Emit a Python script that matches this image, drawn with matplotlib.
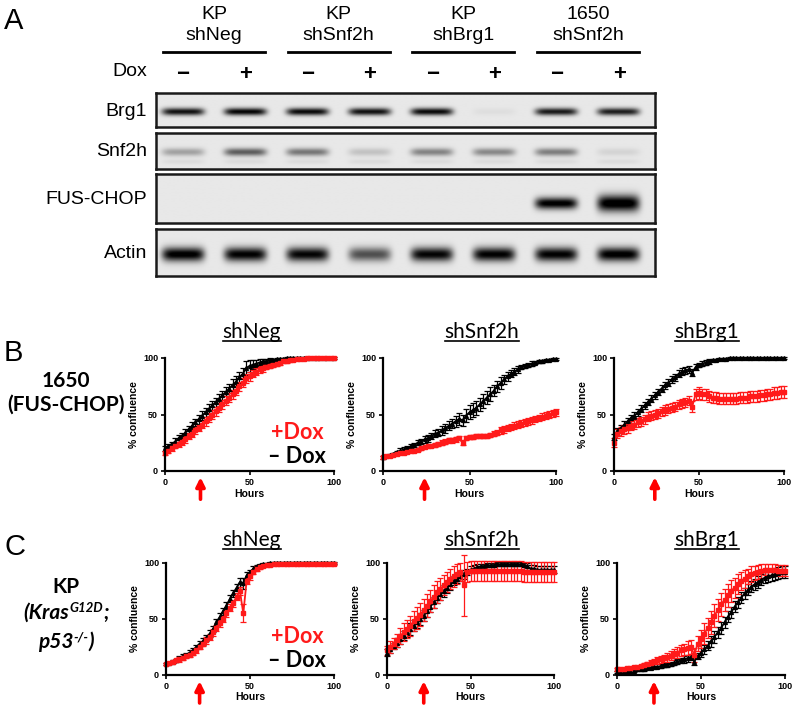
import numpy as np
import matplotlib.pyplot as plt
from matplotlib.lines import Line2D

# Figure: western blot (A) + growth curves (B, C)

W, H = 794, 706
plt.rcParams['font.family'] = ['Liberation Sans', 'DejaVu Sans']
fig = plt.figure(figsize=(W / 100, H / 100), dpi=100)


def rect(x0, y0, x1, y1):
    # pixel box (top-left origin) -> figure fraction
    return [x0 / W, 1 - y1 / H, (x1 - x0) / W, (y1 - y0) / H]


def fx(x):
    return x / W


def fy(y):
    return 1 - y / H


# ---------------- Panel A data ----------------
groups = ['KP\nshNeg', 'KP\nshSnf2h', 'KP\nshBrg1', '1650\nshSnf2h']
dox_signs = ['\u2212', '+', '\u2212', '+', '\u2212', '+', '\u2212', '+']
blot_rows = ['Brg1', 'Snf2h', 'FUS-CHOP', 'Actin']
brg1_band = [0.85, 0.9, 0.88, 0.85, 0.88, 0.04, 0.82, 0.8]
snf2h_band = [0.28, 0.55, 0.45, 0.15, 0.4, 0.38, 0.42, 0.08]
fuschop_band = [0, 0, 0, 0, 0, 0, 0.95, 1.0]
actin_band = [0.95, 0.92, 0.9, 0.6, 0.9, 0.92, 0.92, 0.95]

# ---------------- Panels B / C data ----------------
hours = np.arange(0, 101, 2)

b_neg_k = [20, 22, 24, 26, 29, 31, 34, 37, 40, 43,
           46, 49, 52, 55, 58, 61, 64, 67, 70, 73,
           76, 79, 83, 86, 91, 93, 94, 95, 96, 97,
           97, 98, 98, 99, 99, 99, 100, 100, 100, 100,
           100, 100, 100, 100, 100, 100, 100, 100, 100, 100, 100]
b_neg_k_err = [2, 2, 2, 3, 3, 3, 3, 3, 3, 3,
               4, 4, 4, 4, 4, 4, 4, 4, 4, 4,
               5, 5, 5, 5, 6, 5, 4, 3, 3, 2,
               2, 2, 1, 1, 1, 1, 1, 1, 1, 1,
               1, 1, 1, 1, 1, 1, 1, 1, 1, 1, 1]
b_neg_r = [16, 18, 20, 22, 24, 26, 28, 31, 33, 36,
           38, 41, 44, 47, 50, 53, 56, 59, 62, 65,
           68, 71, 75, 78, 82, 84, 86, 88, 90, 91,
           92, 93, 94, 95, 96, 97, 97, 98, 98, 99,
           99, 99, 100, 100, 100, 100, 100, 100, 100, 100, 100]
b_neg_r_err = [2, 2, 2, 2, 3, 3, 3, 3, 3, 3,
               3, 3, 4, 4, 4, 4, 4, 4, 4, 4,
               4, 4, 4, 4, 4, 4, 3, 3, 3, 3,
               2, 2, 2, 2, 2, 1, 1, 1, 1, 1,
               1, 1, 1, 1, 1, 1, 1, 1, 1, 1, 1]

b_snf_k = [12, 13, 14, 15, 17, 18, 19, 20, 22, 23,
           25, 26, 28, 29, 31, 33, 34, 36, 38, 40,
           42, 44, 46, 45, 49, 52, 54, 56, 59, 62,
           65, 68, 71, 75, 78, 81, 84, 86, 88, 90,
           92, 93, 94, 95, 96, 97, 97, 98, 98, 99, 99]
b_snf_k_err = [1, 1, 1, 1, 1, 2, 2, 2, 2, 2,
               2, 2, 3, 3, 3, 3, 3, 4, 4, 4,
               4, 5, 5, 5, 6, 6, 6, 6, 6, 6,
               6, 6, 5, 5, 5, 4, 4, 3, 3, 3,
               2, 2, 2, 2, 1, 1, 1, 1, 1, 1, 1]
b_snf_r = [12, 13, 13, 14, 15, 16, 16, 17, 18, 18,
           19, 20, 21, 22, 22, 23, 24, 25, 26, 27,
           27, 28, 29, 25, 29, 30, 30, 31, 31, 31,
           31, 32, 33, 34, 36, 37, 38, 39, 40, 41,
           42, 43, 44, 45, 46, 47, 48, 49, 50, 51, 52]
b_snf_r_err = [1, 1, 1, 1, 1, 1, 1, 1, 1, 1,
               1, 1, 1, 1, 1, 2, 2, 2, 2, 2,
               2, 2, 2, 2, 2, 2, 2, 2, 2, 2,
               2, 2, 2, 2, 3, 3, 3, 3, 3, 3,
               3, 3, 3, 3, 3, 3, 3, 3, 3, 3, 3]

b_brg_k = [30, 35, 38, 41, 44, 47, 49, 52, 55, 58,
           61, 64, 67, 70, 73, 76, 78, 81, 83, 86,
           88, 89, 90, 87, 92, 94, 95, 96, 97, 98,
           98, 99, 99, 99, 100, 100, 100, 100, 100, 100,
           100, 100, 100, 100, 100, 100, 100, 100, 100, 100, 100]
b_brg_k_err = [3, 3, 3, 3, 3, 3, 3, 3, 3, 3,
               3, 3, 3, 3, 3, 3, 3, 3, 3, 3,
               3, 3, 3, 3, 3, 2, 2, 2, 2, 1,
               1, 1, 1, 1, 1, 1, 1, 1, 1, 1,
               1, 1, 1, 1, 1, 1, 1, 1, 1, 1, 1]
b_brg_r = [25, 33, 35, 37, 38, 40, 41, 43, 44, 46,
           48, 49, 50, 51, 53, 54, 55, 56, 57, 59,
           60, 61, 62, 57, 68, 69, 68, 68, 66, 65,
           65, 64, 64, 64, 64, 64, 64, 65, 65, 65,
           66, 66, 66, 67, 67, 68, 68, 69, 69, 70, 70]
b_brg_r_err = [4, 4, 4, 4, 4, 4, 4, 4, 4, 4,
               4, 4, 4, 4, 4, 4, 4, 4, 4, 4,
               4, 4, 4, 5, 5, 5, 5, 5, 5, 5,
               5, 5, 5, 5, 5, 5, 5, 5, 5, 5,
               5, 5, 5, 5, 5, 5, 5, 5, 5, 5, 5]

c_neg_k = [10, 11, 12, 13, 15, 17, 18, 20, 22, 25,
           28, 30, 33, 37, 41, 47, 52, 57, 62, 68,
           73, 78, 83, 82, 89, 92, 95, 97, 98, 99,
           99, 100, 100, 100, 100, 100, 100, 100, 100, 100,
           100, 100, 100, 100, 100, 100, 100, 100, 100, 100, 100]
c_neg_k_err = [1, 1, 1, 1, 2, 2, 2, 2, 2, 2,
               2, 3, 3, 3, 3, 3, 3, 3, 3, 3,
               3, 3, 4, 5, 3, 2, 2, 1, 1, 1,
               1, 1, 1, 1, 1, 1, 1, 1, 1, 1,
               1, 1, 1, 1, 1, 1, 1, 1, 1, 1, 1]
c_neg_r = [10, 11, 12, 13, 14, 15, 17, 18, 20, 22,
           25, 28, 31, 34, 38, 42, 46, 50, 55, 60,
           64, 70, 75, 55, 84, 88, 92, 95, 96, 97,
           98, 98, 99, 99, 99, 99, 99, 99, 99, 99,
           99, 99, 99, 99, 99, 99, 99, 99, 99, 99, 99]
c_neg_r_err = [1, 1, 1, 1, 2, 2, 2, 2, 2, 2,
               2, 2, 3, 3, 3, 3, 3, 3, 3, 3,
               3, 3, 4, 8, 3, 3, 2, 2, 1, 1,
               1, 1, 1, 1, 1, 1, 1, 1, 1, 1,
               1, 1, 1, 1, 1, 1, 1, 1, 1, 1, 1]

c_snf_k = [20, 23, 26, 29, 32, 35, 38, 41, 44, 47,
           50, 53, 57, 61, 65, 69, 72, 75, 78, 81,
           84, 86, 88, 90, 92, 94, 95, 96, 97, 97,
           98, 98, 98, 99, 99, 99, 99, 99, 99, 99,
           99, 98, 97, 95, 95, 94, 94, 94, 94, 94, 94]
c_snf_k_err = [3, 3, 3, 4, 4, 4, 4, 5, 5, 5,
               5, 5, 5, 5, 5, 5, 5, 5, 5, 5,
               4, 4, 4, 4, 3, 3, 3, 3, 2, 2,
               2, 2, 2, 2, 2, 2, 2, 2, 2, 2,
               2, 2, 3, 3, 3, 3, 3, 3, 3, 3, 3]
c_snf_r = [22, 25, 28, 31, 35, 38, 41, 44, 48, 51,
           54, 58, 62, 66, 70, 74, 77, 80, 83, 86,
           88, 90, 92, 80, 92, 93, 93, 93, 93, 93,
           93, 93, 93, 93, 93, 93, 93, 93, 93, 93,
           93, 92, 92, 92, 92, 92, 92, 92, 92, 92, 92]
c_snf_r_err = [4, 5, 5, 6, 7, 8, 8, 9, 9, 10,
               10, 10, 10, 10, 10, 10, 10, 9, 9, 9,
               9, 9, 8, 27, 9, 9, 9, 9, 9, 9,
               9, 9, 9, 9, 9, 9, 9, 9, 9, 9,
               9, 9, 9, 9, 9, 9, 9, 9, 9, 9, 9]

c_brg_k = [3, 3, 3, 4, 4, 4, 5, 5, 5, 6,
           6, 7, 7, 8, 9, 9, 10, 11, 12, 13,
           14, 15, 16, 12, 17, 20, 23, 26, 30, 34,
           38, 42, 47, 52, 56, 61, 65, 69, 73, 76,
           79, 81, 83, 85, 87, 88, 89, 90, 91, 92, 92]
c_brg_k_err = [1, 1, 1, 1, 1, 1, 1, 1, 1, 1,
               1, 1, 1, 2, 2, 2, 2, 2, 2, 2,
               3, 3, 3, 3, 3, 4, 4, 4, 5, 5,
               5, 5, 5, 5, 5, 5, 5, 5, 5, 5,
               5, 5, 5, 5, 5, 5, 5, 5, 5, 5, 5]
c_brg_r = [5, 5, 5, 6, 6, 7, 7, 8, 9, 10,
           11, 12, 13, 14, 15, 16, 17, 19, 20, 22,
           23, 24, 25, 18, 28, 32, 37, 42, 47, 53,
           58, 63, 67, 71, 75, 78, 81, 84, 86, 88,
           90, 91, 92, 93, 94, 94, 94, 94, 93, 93, 93]
c_brg_r_err = [1, 1, 1, 1, 1, 1, 1, 1, 2, 2,
               2, 2, 3, 3, 3, 4, 4, 4, 5, 5,
               5, 6, 6, 6, 7, 8, 9, 9, 10, 10,
               10, 10, 10, 10, 10, 9, 9, 8, 8, 7,
               7, 6, 6, 6, 5, 5, 5, 5, 5, 5, 5]

panel_titles = ['shNeg', 'shSnf2h', 'shBrg1']
arrow_b = [21, 24, 24]
arrow_c = [20, 22, 22]

# ---------------- Panel A ----------------
fig.text(fx(4), fy(21), 'A', fontsize=21, va='center', ha='left')

lane_x = [183 + 62.3 * i for i in range(8)]
for g, name in enumerate(groups):
    cx = (lane_x[2 * g] + lane_x[2 * g + 1]) / 2
    fig.text(fx(cx), fy(25), name, fontsize=14, ha='center',
             va='center', linespacing=1.3)
    fig.add_artist(Line2D([fx(cx - 51), fx(cx + 51)], [fy(52), fy(52)],
                          transform=fig.transFigure, color='black', lw=2))
fig.text(fx(147), fy(71), 'Dox', fontsize=14, ha='right', va='center')
for x, s in zip(lane_x, dox_signs):
    fig.text(fx(x), fy(74), s, fontsize=16, fontweight='bold', ha='center', va='center')

strips = [(93, 127), (133, 169), (174, 223), (229, 276)]
levels = [brg1_band, snf2h_band, fuschop_band, actin_band]
band_centre = [0.55, 0.53, 0.6, 0.54]
band_half = [[0.11] * 8, [0.11] * 8, [0.11] * 6 + [0.12, 0.17], [0.15] * 8]
for k, ((y0, y1), lab) in enumerate(zip(strips, blot_rows)):
    ax = fig.add_axes(rect(156, y0, 655, y1))
    xs = np.linspace(-0.43, 7.58, 500)
    ys = np.linspace(0, 1, 80)
    X, Y = np.meshgrid(xs, ys)
    img = np.full(X.shape, 0.91)
    for i, a in enumerate(levels[k]):
        img -= a * np.exp(-np.abs((X - i) / 0.34) ** 6) * \
            np.exp(-((Y - band_centre[k]) / band_half[k][i]) ** 2)
        if lab == 'Snf2h':
            img -= 0.05 * np.exp(-np.abs((X - i) / 0.34) ** 6) * \
                np.exp(-((Y - 0.8) / 0.07) ** 2)
    ax.imshow(np.clip(img, 0, 1), cmap='gray', vmin=0, vmax=1, aspect='auto',
              extent=(-0.43, 7.58, 1, 0), interpolation='bilinear')
    ax.set_xticks([])
    ax.set_yticks([])
    for sp in ax.spines.values():
        sp.set_linewidth(1.8)
        sp.set_color('#1a1a1a')
    fig.text(fx(147), fy((y0 + y1) / 2 + 1), lab, fontsize=14,
             ha='right', va='center')

# ---------------- Panels B / C ----------------
calib = ['Lato', 'DejaVu Sans']
fig.text(fx(4), fy(353), 'B', fontsize=21, va='center')
fig.text(fx(4), fy(547), 'C', fontsize=21, va='center')
fig.text(fx(66), fy(393), '1650\n(FUS-CHOP)', fontsize=15, fontweight='bold',
         family=calib, ha='center', va='center', linespacing=1.2)
fig.text(fx(66), fy(587), 'KP', fontsize=15, fontweight='bold', family=calib,
         ha='center', va='center')

# rich lines: (text, size, raise in px)
rich_lines = [
    (619, [('(Kras', 15, 0), ('G12D', 9.5, 7), (';', 15, 0)]),
    (648, [('p53', 15, 0), ('-/-', 9.5, 7), (')', 15, 0)]),
]
rich_texts = []
for base_y, pieces in rich_lines:
    objs = []
    for s, size, up in pieces:
        t = fig.text(0, fy(base_y - up), s, fontsize=size, fontweight='bold',
                     style='italic', family=calib, ha='left', va='baseline')
        objs.append(t)
    rich_texts.append(objs)

rows = [
    (358, 471, arrow_b, [(165, 334), (383, 556), (614, 784)],
     [(b_neg_k, b_neg_k_err, b_neg_r, b_neg_r_err),
      (b_snf_k, b_snf_k_err, b_snf_r, b_snf_r_err),
      (b_brg_k, b_brg_k_err, b_brg_r, b_brg_r_err)], 332),
    (563, 675, arrow_c, [(166, 334), (387, 554), (617, 785)],
     [(c_neg_k, c_neg_k_err, c_neg_r, c_neg_r_err),
      (c_snf_k, c_snf_k_err, c_snf_r, c_snf_r_err),
      (c_brg_k, c_brg_k_err, c_brg_r, c_brg_r_err)], 540),
]
title_x = [252, 482, 707]
titles = []
for y0, y1, arrows, cols, series, ty in rows:
    for j, ((x0, x1), (k, ke, r, re)) in enumerate(zip(cols, series)):
        ax = fig.add_axes(rect(x0, y0, x1, y1))
        ax.errorbar(hours, k, yerr=ke, color='black', marker='^', ms=2.8,
                    lw=1.3, elinewidth=0.9, capsize=2.2, capthick=0.9, clip_on=False)
        ax.errorbar(hours, r, yerr=re, color='#ff1a1a', marker='s', ms=2.4,
                    lw=1.3, elinewidth=0.9, capsize=2.2, capthick=0.9, clip_on=False)
        ax.set_xlim(0, 100)
        ax.set_ylim(0, 100)
        ax.set_xticks([0, 50, 100])
        ax.set_yticks([0, 50, 100])
        ax.spines['top'].set_visible(False)
        ax.spines['right'].set_visible(False)
        ax.spines['left'].set_linewidth(1.6)
        ax.spines['bottom'].set_linewidth(1.6)
        ax.tick_params(length=3, width=1.2, pad=2, labelsize=6.5)
        for tl in ax.get_xticklabels() + ax.get_yticklabels():
            tl.set_fontweight('bold')
        ax.set_ylabel('% confluence', fontsize=7.5, fontweight='bold', labelpad=3)
        ax.text(0.5, -0.2, 'Hours', transform=ax.transAxes, fontsize=7.5,
                fontweight='bold', ha='center', va='center')
        ax.annotate('', xy=(arrows[j], -0.055), xycoords=('data', 'axes fraction'),
                    xytext=(arrows[j], -0.25), textcoords=('data', 'axes fraction'),
                    arrowprops=dict(arrowstyle='-|>', color='red', lw=2.6,
                                    mutation_scale=13, shrinkA=0, shrinkB=0))
        if j == 0:
            ax.text(0.94, 0.34, '+Dox', transform=ax.transAxes, color='#ff1a1a',
                    fontsize=15.5, fontweight='bold', family=calib, ha='right', va='center')
            ax.text(0.95, 0.13, '\u2013 Dox', transform=ax.transAxes, color='black',
                    fontsize=15.5, fontweight='bold', family=calib, ha='right', va='center')
        t = fig.text(fx(title_x[j]), fy(ty), panel_titles[j], fontsize=15,
                     family=calib, ha='center', va='center')
        titles.append(t)

fig.canvas.draw()
rend = fig.canvas.get_renderer()
inv = fig.transFigure.inverted()

# centre the rich (italic, superscript) lines of the KP label
for objs in rich_texts:
    widths = [o.get_window_extent(rend).width for o in objs]
    x = 66 - sum(widths) / 2
    for o, w in zip(objs, widths):
        o.set_x(fx(x))
        x += w

# underline the panel titles
for t in titles:
    bb = t.get_window_extent(rend)
    (a0, b0), (a1, b1) = inv.transform([[bb.x0, bb.y0], [bb.x1, bb.y1]])
    fig.add_artist(Line2D([a0, a1], [b0 + 0.002, b0 + 0.002],
                          transform=fig.transFigure, color='black', lw=1.2))

fig.savefig('out.png', dpi=100)
